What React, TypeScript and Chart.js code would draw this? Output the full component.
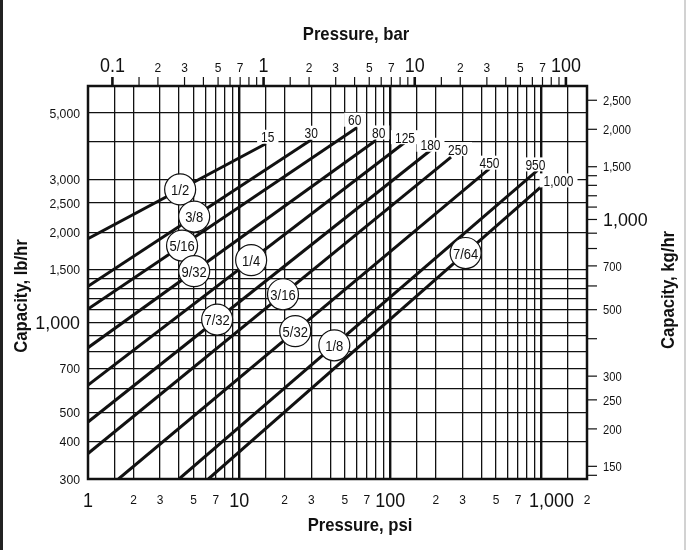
import React, { useEffect, useRef } from 'react';
import { Chart, registerables } from 'chart.js';

Chart.register(...registerables);

// orifice size of each line (circled) and the pressure printed at its upper end
const ORIFICE_SIZES = ['1/2', '3/8', '5/16', '9/32', '1/4', '7/32', '3/16', '5/32', '1/8', '7/64'];
const END_LABELS = ['15', '30', '60', '80', '125', '180', '250', '450', '950', '1,000'];

// straight lines on log-log paper: start and end points (psi, lb/hr)
const START_PSI = [1, 1, 1, 1, 1, 1, 1, 1.59, 4.0, 6.26];
const START_LB = [1903, 1320, 1108, 823, 617, 465, 365, 300, 300, 300];
const END_PSI = [15, 30, 60, 80, 125, 190, 252, 453, 940, 1000];
const END_LB = [3946, 4069, 4462, 4047, 3993, 3797, 3561, 3258, 3215, 2843];

// where along each line the circled size sits (psi)
const ORIFICE_LABEL_PSI = [4.07, 5.04, 4.19, 5.04, 12.0, 7.15, 19.5, 23.5, 42.6, 315];

// grid lines
const PSI_GRID = [1.5, 2, 3, 4, 5, 6, 7, 8, 9, 10, 15, 20, 30, 40, 50, 60, 70, 80, 90, 100,
  150, 200, 300, 400, 500, 600, 700, 800, 900, 1000, 1500];
const LB_GRID = [400, 500, 600, 700, 800, 900, 1000, 1100, 1200, 1300, 1400, 1500, 2000, 2500, 3000, 4000, 5000];

// tick labels
const PSI_LABEL_VALUES = [1, 2, 3, 5, 7, 10, 20, 30, 50, 70, 100, 200, 300, 500, 700, 1000, 2000];
const PSI_LABEL_TEXT = ['1', '2', '3', '5', '7', '10', '2', '3', '5', '7', '100', '2', '3', '5', '7', '1,000', '2'];
const BAR_TICKS = [0.1, 0.15, 0.2, 0.3, 0.4, 0.5, 0.6, 0.7, 0.8, 0.9, 1, 1.5, 2, 3, 4, 5, 6, 7, 8, 9, 10,
  15, 20, 30, 40, 50, 60, 70, 80, 90, 100];
const BAR_LABEL_VALUES = [0.1, 0.2, 0.3, 0.5, 0.7, 1, 2, 3, 5, 7, 10, 20, 30, 50, 70, 100];
const BAR_LABEL_TEXT = ['0.1', '2', '3', '5', '7', '1', '2', '3', '5', '7', '10', '2', '3', '5', '7', '100'];
const LB_LABEL_VALUES = [300, 400, 500, 700, 1000, 1500, 2000, 2500, 3000, 5000];
const LB_LABEL_TEXT = ['300', '400', '500', '700', '1,000', '1,500', '2,000', '2,500', '3,000', '5,000'];
const KG_TICKS = [140, 150, 200, 250, 300, 400, 500, 600, 700, 800, 900, 1000, 1100, 1200, 1300, 1400, 1500, 2000, 2500];
const KG_LABEL_VALUES = [150, 200, 250, 300, 500, 700, 1000, 1500, 2000, 2500];
const KG_LABEL_TEXT = ['150', '200', '250', '300', '500', '700', '1,000', '1,500', '2,000', '2,500'];

const PSI_PER_BAR = 14.5038;
const KG_PER_LB = 0.45359;
const PSI_MIN = 1;
const PSI_MAX = 2000;
const LB_MIN = 300;
const LB_MAX = 6150;

// small nudges for the end labels (px)
const END_DX = [2, 0, -2, 3, 0, -2, 7, 0, -2, 17];
const END_DY = [-7, -7, -8, -8, -5, -4, -8, -6, -6, -6];

const FONT = '"Liberation Sans", Arimo, Arial, sans-serif';
const INK = '#111';

const isDecade = (v: number) => Math.abs(Math.log10(v) - Math.round(Math.log10(v))) < 1e-9;

function drawText(
  ctx: CanvasRenderingContext2D, str: string, x: number, y: number, size: number,
  align: CanvasTextAlign = 'center', baseline: CanvasTextBaseline = 'alphabetic',
  bold = false, sx = 1, rot = 0,
) {
  ctx.save();
  ctx.translate(x, y);
  if (rot) ctx.rotate(rot);
  ctx.scale(sx, 1);
  ctx.font = `${bold ? 'bold ' : ''}${size}px ${FONT}`;
  ctx.fillStyle = INK;
  ctx.textAlign = align;
  ctx.textBaseline = baseline;
  ctx.fillText(str, 0, 0);
  ctx.restore();
}

function lbOnLine(i: number, psi: number) {
  const t = Math.log(psi / START_PSI[i]) / Math.log(END_PSI[i] / START_PSI[i]);
  return START_LB[i] * Math.pow(END_LB[i] / START_LB[i], t);
}

const overlay = {
  id: 'overlay',
  afterDatasetsDraw(chart: any) {
    const { ctx, chartArea: a, scales } = chart;
    const x = scales.x;
    const y = scales.y;
    const xb = scales.xBar;
    const yk = scales.yKg;
    ctx.save();
    ctx.strokeStyle = INK;
    ctx.fillStyle = INK;

    // plot frame
    ctx.lineWidth = 2.5;
    ctx.strokeRect(a.left, a.top, a.right - a.left, a.bottom - a.top);

    // top (bar) tick marks and labels
    BAR_TICKS.forEach((v) => {
      const px = xb.getPixelForValue(v);
      ctx.lineWidth = isDecade(v) ? 2.6 : 1.2;
      ctx.beginPath();
      ctx.moveTo(px, a.top - 9);
      ctx.lineTo(px, a.top);
      ctx.stroke();
    });
    BAR_LABEL_VALUES.forEach((v, i) => {
      const big = isDecade(v);
      drawText(ctx, BAR_LABEL_TEXT[i], xb.getPixelForValue(v), a.top - 14, big ? 19.5 : 13, 'center', 'alphabetic', false, big ? 0.92 : 0.92);
    });

    // bottom (psi) labels
    PSI_LABEL_VALUES.forEach((v, i) => {
      const big = isDecade(v);
      const t = PSI_LABEL_TEXT[i];
      const dx = t === '1,000' ? 10 : 0;
      drawText(ctx, t, x.getPixelForValue(v) + dx, a.bottom + (big ? 28 : 25), big ? 19.5 : 13, 'center', 'alphabetic', false, 0.92);
    });

    // left (lb/hr) labels
    LB_LABEL_VALUES.forEach((v, i) => {
      const big = isDecade(v);
      drawText(ctx, LB_LABEL_TEXT[i], a.left - 8, y.getPixelForValue(v) + (big ? 6.8 : 4.7), big ? 19 : 13, 'right', 'alphabetic', false, 0.94);
    });

    // right (kg/hr) ticks and labels
    KG_TICKS.forEach((v) => {
      const py = yk.getPixelForValue(v);
      ctx.lineWidth = 1.2;
      ctx.beginPath();
      ctx.moveTo(a.right, py);
      ctx.lineTo(a.right + 10, py);
      ctx.stroke();
    });
    KG_LABEL_VALUES.forEach((v, i) => {
      const big = isDecade(v);
      drawText(ctx, KG_LABEL_TEXT[i], a.right + 16, yk.getPixelForValue(v) + (big ? 6.8 : 4.7), big ? 19 : 13, 'left', 'alphabetic', false, big ? 0.94 : 0.86);
    });

    // axis titles
    drawText(ctx, 'Pressure, bar', 356, 40, 18.5, 'center', 'alphabetic', true, 0.9);
    drawText(ctx, 'Pressure, psi', 360, 531, 18.5, 'center', 'alphabetic', true, 0.9);
    drawText(ctx, 'Capacity, lb/hr', 27, 296, 18.5, 'center', 'alphabetic', true, 0.9, -Math.PI / 2);
    drawText(ctx, 'Capacity, kg/hr', 674, 290, 18.5, 'center', 'alphabetic', true, 0.9, -Math.PI / 2);

    // pressure labels at the line ends, on white
    END_LABELS.forEach((t, i) => {
      const px = x.getPixelForValue(END_PSI[i]) + END_DX[i];
      const py = y.getPixelForValue(END_LB[i]) + END_DY[i];
      ctx.font = `15px ${FONT}`;
      const w = ctx.measureText(t).width * 0.8;
      ctx.fillStyle = '#fff';
      ctx.fillRect(px - w / 2 - 4, py - 7, w + 8, 14);
      drawText(ctx, t, px, py + 5.5, 15, 'center', 'alphabetic', false, 0.8);
    });

    // circled orifice sizes
    ORIFICE_SIZES.forEach((t, i) => {
      const p = ORIFICE_LABEL_PSI[i];
      const cx = x.getPixelForValue(p);
      const cy = y.getPixelForValue(lbOnLine(i, p));
      ctx.beginPath();
      ctx.arc(cx, cy, 15.5, 0, Math.PI * 2);
      ctx.fillStyle = '#fff';
      ctx.fill();
      ctx.lineWidth = 1.2;
      ctx.strokeStyle = INK;
      ctx.stroke();
      drawText(ctx, t, cx, cy + 5.5, 15.5, 'center', 'alphabetic', false, 0.84);
    });

    ctx.restore();
  },
  afterDraw(chart: any) {
    const { ctx, height } = chart;
    ctx.save();
    ctx.fillStyle = '#222';
    ctx.fillRect(0, 0, 3, height);
    ctx.fillStyle = '#d2d2d2';
    ctx.fillRect(684, 0, 2, height);
    ctx.restore();
  },
};

const gridWidth = (c: any) => (c.tick && isDecade(c.tick.value) ? 2.4 : 1.3);

const App: React.FC = () => {
  const canvasRef = useRef<HTMLCanvasElement>(null);

  useEffect(() => {
    if (!canvasRef.current) return;
    const existing = Chart.getChart(canvasRef.current);
    if (existing) existing.destroy();

    const datasets = ORIFICE_SIZES.map((size, i) => ({
      label: size,
      data: [
        { x: START_PSI[i], y: START_LB[i] },
        { x: END_PSI[i], y: END_LB[i] },
      ],
      showLine: true,
      borderColor: INK,
      borderWidth: 3,
      pointRadius: 0,
      xAxisID: 'x',
      yAxisID: 'y',
    }));

    const chart = new Chart(canvasRef.current, {
      type: 'scatter',
      data: { datasets },
      options: {
        animation: false,
        responsive: true,
        maintainAspectRatio: false,
        layout: { padding: { left: 88, top: 86, right: 100, bottom: 71 } },
        plugins: { legend: { display: false }, tooltip: { enabled: false } },
        scales: {
          x: {
            type: 'logarithmic',
            position: 'bottom',
            min: PSI_MIN,
            max: PSI_MAX,
            bounds: 'data',
            afterBuildTicks: (s: any) => { s.ticks = PSI_GRID.map((value) => ({ value })); },
            afterFit: (s: any) => { s.height = 0; },
            ticks: { display: false },
            border: { display: false },
            grid: { color: INK, lineWidth: gridWidth, drawTicks: false },
          },
          y: {
            type: 'logarithmic',
            position: 'left',
            min: LB_MIN,
            max: LB_MAX,
            bounds: 'data',
            afterBuildTicks: (s: any) => { s.ticks = LB_GRID.map((value) => ({ value })); },
            afterFit: (s: any) => { s.width = 0; },
            ticks: { display: false },
            border: { display: false },
            grid: { color: INK, lineWidth: 1.3, drawTicks: false },
          },
          xBar: {
            type: 'logarithmic',
            axis: 'x',
            position: 'top',
            min: PSI_MIN / PSI_PER_BAR,
            max: PSI_MAX / PSI_PER_BAR,
            bounds: 'data',
            afterFit: (s: any) => { s.height = 0; },
            ticks: { display: false },
            border: { display: false },
            grid: { display: false },
          },
          yKg: {
            type: 'logarithmic',
            axis: 'y',
            position: 'right',
            min: LB_MIN * KG_PER_LB,
            max: LB_MAX * KG_PER_LB,
            bounds: 'data',
            afterFit: (s: any) => { s.width = 0; },
            ticks: { display: false },
            border: { display: false },
            grid: { display: false },
          },
        },
      } as any,
      plugins: [overlay],
    });

    return () => {
      chart.destroy();
    };
  }, []);

  return (
    <div style={{ position: 'absolute', left: 0, top: 0, width: 687, height: 550, background: '#fff' }}>
      <canvas ref={canvasRef} />
    </div>
  );
};

export default App;
